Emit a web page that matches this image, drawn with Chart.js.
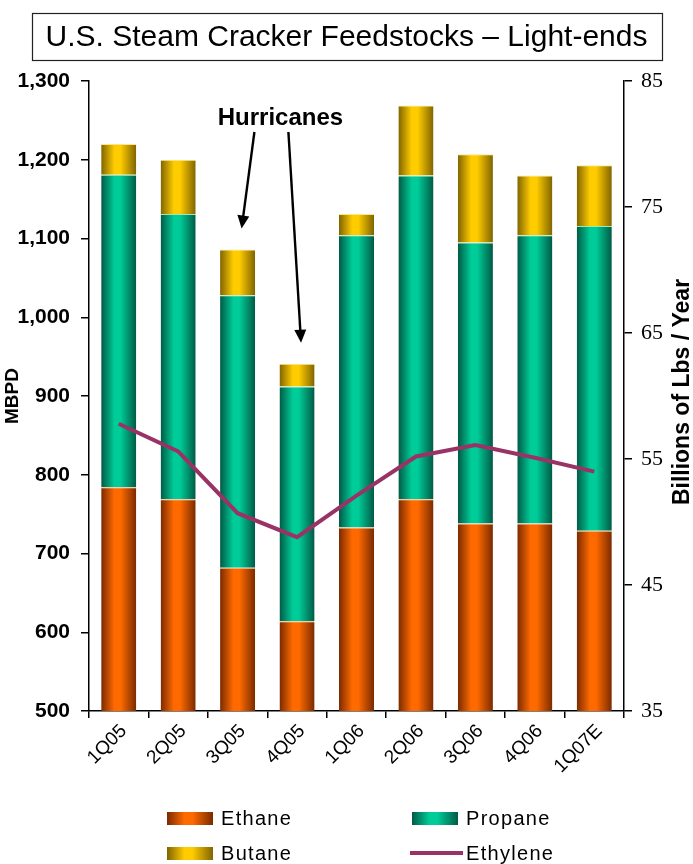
<!DOCTYPE html>
<html>
<head>
<meta charset="utf-8">
<script src="https://cdn.jsdelivr.net/npm/chart.js@4/dist/chart.umd.min.js"></script>
<style>
  html, body { margin: 0; padding: 0; background: #fff; }
  #wrap { width: 693px; height: 864px; position: relative; }
</style>
</head>
<body>
<div id="wrap"><canvas id="chart"></canvas></div>
<script>
// Quarterly light-end feedstock slate (MBPD) and ethylene output (billion lbs/yr)
const quarters = ['1Q05', '2Q05', '3Q05', '4Q05', '1Q06', '2Q06', '3Q06', '4Q06', '1Q07E'];
const ethane   = [784, 769, 682, 614, 733, 769, 738, 738, 729];
const propane  = [397, 362, 346, 298, 371, 411, 357, 366, 387];
const butane   = [39, 69, 58, 29, 27, 89, 112, 76, 77];
const ethylene = [57.8, 55.6, 50.7, 48.8, 52.1, 55.2, 56.1, 55.1, 54.0];

// Quarters hit by the Gulf hurricanes
const hurricaneQuarters = ['3Q05', '4Q05'];

const TITLE = 'U.S. Steam Cracker Feedstocks \u2013 Light-ends';
const BAR_PCT = 0.59;
const SANS = '"Liberation Sans", Arial, Helvetica, sans-serif';
const SERIF = '"Liberation Serif", "Times New Roman", serif';

const palette = {
  ethane:   { dark: '#7a2a00', bright: '#ff6a00', seam: '#ffb070' },
  propane:  { dark: '#005a45', bright: '#00cc99', seam: '#9fe8b0' },
  butane:   { dark: '#806400', bright: '#ffcc00', seam: '#ffe680' },
  ethylene: '#993366'
};

function shadeStops(g, dark, bright) {
  g.addColorStop(0, dark);
  g.addColorStop(0.38, bright);
  g.addColorStop(0.55, bright);
  g.addColorStop(1, dark);
  return g;
}

// Horizontal "cylinder" shading for each bar
function cylinder(colors) {
  return (c) => {
    if (c.type !== 'data') return colors.bright;
    const xs = c.chart.scales.x;
    if (!xs || !xs.width) return colors.bright;
    const cx = xs.getPixelForValue(c.dataIndex);
    const half = xs.width / quarters.length * BAR_PCT / 2;
    const g = c.chart.ctx.createLinearGradient(cx - half, 0, cx + half, 0);
    return shadeStops(g, colors.dark, colors.bright);
  };
}

function drawArrow(ctx, x1, y1, x2, y2) {
  const ang = Math.atan2(y2 - y1, x2 - x1);
  const head = 13, wing = 6;
  ctx.beginPath();
  ctx.moveTo(x1, y1);
  ctx.lineTo(x2 - Math.cos(ang) * head * 0.8, y2 - Math.sin(ang) * head * 0.8);
  ctx.stroke();
  ctx.beginPath();
  ctx.moveTo(x2, y2);
  ctx.lineTo(x2 - Math.cos(ang) * head - Math.sin(ang) * wing, y2 - Math.sin(ang) * head + Math.cos(ang) * wing);
  ctx.lineTo(x2 - Math.cos(ang) * head + Math.sin(ang) * wing, y2 - Math.sin(ang) * head - Math.cos(ang) * wing);
  ctx.closePath();
  ctx.fill();
}

const decor = {
  id: 'decor',
  afterDraw(chart) {
    const ctx = chart.ctx;
    const xs = chart.scales.x, ys = chart.scales.y;
    ctx.save();

    // Boxed title
    ctx.font = '30px ' + SANS;
    const tw = ctx.measureText(TITLE).width;
    const cx = chart.width / 2;
    ctx.strokeStyle = '#222';
    ctx.lineWidth = 1.2;
    ctx.strokeRect(Math.round(cx - tw / 2 - 14) + 0.5, 13.5, Math.round(tw + 28), 47);
    ctx.fillStyle = '#000';
    ctx.textAlign = 'center';
    ctx.textBaseline = 'middle';
    ctx.fillText(TITLE, cx, 38);

    // Right axis title, reading upward
    ctx.save();
    ctx.translate(683, (chart.chartArea.top + chart.chartArea.bottom) / 2 - 4);
    ctx.rotate(-Math.PI / 2);
    ctx.font = 'bold 23px ' + SANS;
    ctx.fillText('Billions of Lbs / Year', 0, 0);
    ctx.restore();

    // Hurricane annotation
    const tx = xs.getPixelForValue(2.72);
    const ty = ys.getPixelForValue(1253);
    ctx.font = 'bold 24px ' + SANS;
    ctx.fillText('Hurricanes', tx, ty);
    ctx.strokeStyle = '#000';
    ctx.fillStyle = '#000';
    ctx.lineWidth = 2.4;
    const starts = [tx - 26, tx + 8];
    hurricaneQuarters.forEach((q, k) => {
      const i = quarters.indexOf(q);
      const top = ethane[i] + propane[i] + butane[i];
      const bx = xs.getPixelForValue(i) + 4;
      const by = ys.getPixelForValue(top) - 21;
      drawArrow(ctx, starts[k], ty + 14, bx, by);
    });

    // Two-column legend
    const cols = [167, 412];
    const rows = [818, 853];
    ctx.font = '20px ' + SANS;
    ctx.textAlign = 'left';
    ctx.textBaseline = 'middle';
    if ('letterSpacing' in ctx) ctx.letterSpacing = '1.3px';
    chart.data.datasets.forEach((ds, i) => {
      const x = cols[i % 2], y = rows[Math.floor(i / 2)];
      if (ds.type === 'line') {
        ctx.strokeStyle = ds.borderColor;
        ctx.lineWidth = 4;
        ctx.beginPath();
        ctx.moveTo(x - 2, y);
        ctx.lineTo(x + 51, y);
        ctx.stroke();
      } else {
        const g = ctx.createLinearGradient(x, 0, x + 46, 0);
        shadeStops(g, ds.swatch.dark, ds.swatch.bright);
        ctx.fillStyle = g;
        ctx.fillRect(x, y - 6, 46, 13);
      }
      ctx.fillStyle = '#000';
      ctx.fillText(ds.label, x + 54, y + 1);
    });
    ctx.restore();
  }
};

function barSet(label, data, colors) {
  return {
    type: 'bar', label, data, stack: 'feed', yAxisID: 'y', order: 1,
    backgroundColor: cylinder(colors), swatch: colors,
    borderColor: colors.seam, borderWidth: { top: 1, bottom: 0, left: 0, right: 0 },
    borderSkipped: 'bottom',
    barPercentage: BAR_PCT, categoryPercentage: 1
  };
}

new Chart(document.getElementById('chart'), {
  data: {
    labels: quarters,
    datasets: [
      barSet('Ethane', ethane, palette.ethane),
      barSet('Propane', propane, palette.propane),
      barSet('Butane', butane, palette.butane),
      { type: 'line', label: 'Ethylene', data: ethylene, yAxisID: 'y1', order: 0,
        borderColor: palette.ethylene, backgroundColor: palette.ethylene,
        borderWidth: 4, pointRadius: 0, tension: 0, fill: false }
    ]
  },
  options: {
    responsive: true,
    maintainAspectRatio: false,
    animation: false,
    layout: { padding: { top: 81, left: 0, right: 0, bottom: 0 } },
    plugins: {
      legend: { display: false },
      title: { display: false },
      tooltip: { enabled: false }
    },
    scales: {
      x: {
        stacked: true,
        offset: true,
        grid: { offset: true, drawOnChartArea: false, drawTicks: true, tickLength: 7, color: '#000', lineWidth: 1.5 },
        border: { display: true, color: '#000', width: 1.5 },
        ticks: { color: '#000', font: { family: SANS, size: 19 }, minRotation: 45, maxRotation: 45, autoSkip: false, padding: 2, labelOffset: 5 },
        afterFit: (s) => { s.height = 153; }
      },
      y: {
        position: 'left',
        stacked: true,
        min: 500, max: 1300,
        grid: { drawOnChartArea: false, tickLength: 8, color: '#000', lineWidth: 1.5 },
        border: { display: true, color: '#000', width: 1.5 },
        ticks: { stepSize: 100, color: '#000', padding: 11,
          font: { family: SANS, size: 21, weight: 'bold' },
          callback: (v) => v.toLocaleString('en-US') },
        title: { display: true, text: 'MBPD', color: '#000', font: { family: SANS, size: 19, weight: 'bold' }, padding: { top: 1, bottom: 0 } },
        afterFit: (s) => { s.width = 89; }
      },
      y1: {
        position: 'right',
        min: 35, max: 85,
        grid: { drawOnChartArea: false, tickLength: 8, color: '#000', lineWidth: 1.5 },
        border: { display: true, color: '#000', width: 1.5 },
        ticks: { stepSize: 10, color: '#000', padding: 9, font: { family: SERIF, size: 22 } },
        afterFit: (s) => { s.width = 69; }
      }
    }
  },
  plugins: [decor]
});
</script>
</body>
</html>
